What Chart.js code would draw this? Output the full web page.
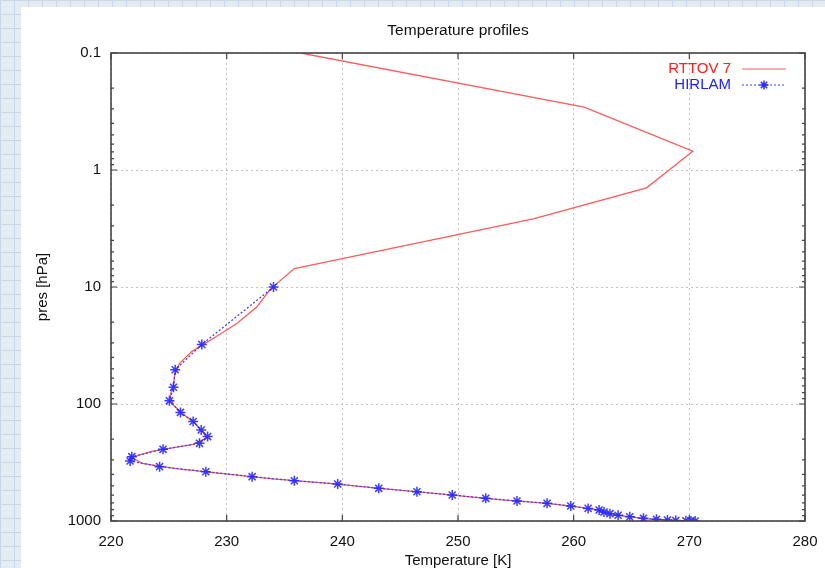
<!DOCTYPE html>
<html>
<head>
<meta charset="utf-8">
<script src="https://cdn.jsdelivr.net/npm/chart.js@4"></script>
<style>
    html, body { margin: 0; padding: 0; }
    body {
        width: 825px; height: 568px; overflow: hidden; position: relative;
        background-color: #e3ebf3;
        background-image:
            linear-gradient(#c9d7e4 1px, transparent 1px),
            linear-gradient(90deg, #c9d7e4 1px, transparent 1px);
        background-size: 14px 14px;
    }
    #panel { position: absolute; left: 21px; top: 7px; right: 0; bottom: 0; background: #fff; }
    #wrap { position: absolute; left: 0; top: 0; width: 825px; height: 568px; }
</style>
</head>
<body>
<div id="panel"></div>
<div id="wrap"><canvas id="chart" width="825" height="568"></canvas></div>
<script>
// RTTOV 7 profile (43 standard levels)
const rttovPres = [0.1, 0.29, 0.69, 1.42, 2.611, 4.407, 6.95, 10.37, 14.81, 20.4, 27.26, 35.51, 45.29,
    56.73, 69.97, 85.18, 102.05, 122.04, 143.84, 167.95, 194.36, 222.94, 253.71, 286.6, 321.5,
    358.28, 396.81, 436.95, 478.54, 521.46, 565.54, 610.6, 656.43, 702.73, 749.12, 795.09,
    839.95, 882.8, 922.46, 957.44, 985.88, 1005.43];
const rttovTemp = [236.4, 260.9, 270.3, 266.3, 256.5, 245.5, 235.85, 233.8, 232.6, 230.9, 228.9, 227.0, 225.9,
    225.5, 225.4, 225.1, 225.4, 226.2, 227.2, 227.8, 228.3, 227.0, 223.5, 221.8, 222.7,
    225.8, 230.1, 234.0, 239.1, 242.8, 246.8, 250.2, 253.6, 257.5, 260.0, 261.8,
    262.65, 263.6, 264.8, 266.4, 268.5, 270.6];

// HIRLAM profile
const hirlamPres = [10, 31, 51, 72, 94, 118, 141, 167, 190, 217, 244, 282, 307, 343, 379, 418, 453,
    483, 526, 562, 600, 640, 675, 706, 745, 780, 806, 839, 866, 893, 922, 948, 967, 981, 990, 995, 998, 1000];
const hirlamTemp = [234.05, 227.85, 225.55, 225.4, 225.05, 226.0, 227.1, 227.8, 228.35, 227.65, 224.5, 221.8,
    221.65, 224.2, 228.2, 232.2, 235.85, 239.6, 243.15, 246.45, 249.5, 252.4, 255.1, 257.7, 259.75,
    261.25, 262.2, 262.62, 263.14, 263.84, 264.85, 266.03, 267.16, 268.11, 268.83, 269.7, 270.13, 270.5];

const yTickValues = [0.1, 1, 10, 100, 1000];
const yTickLabels = ['0.1', '1', '10', '100', '1000'];
const xTickValues = [220, 230, 240, 250, 260, 270, 280];

const FONT = '"Liberation Sans", Arial, Helvetica, sans-serif';

const toPoints = (temps, pres) => temps.map((t, i) => ({ x: t, y: pres[i] }));

const framePlugin = {
    id: 'frame',
    afterDraw(chart) {
        const { ctx, chartArea: a, scales } = chart;
        ctx.save();
        ctx.strokeStyle = '#444';
        ctx.lineWidth = 1.6;
        ctx.strokeRect(a.left, a.top, a.right - a.left, a.bottom - a.top);

        // x major ticks (top and bottom, inward)
        ctx.beginPath();
        xTickValues.forEach((v) => {
            const px = scales.x.getPixelForValue(v);
            ctx.moveTo(px, a.bottom); ctx.lineTo(px, a.bottom - 6);
            ctx.moveTo(px, a.top); ctx.lineTo(px, a.top + 6);
        });
        // y ticks, major and minor on both sides
        yTickValues.forEach((dec) => {
            for (let m = 1; m <= 9; m++) {
                const v = dec * m;
                if (v > 1000) break;
                const py = scales.y.getPixelForValue(v);
                const len = m === 1 ? 6 : 3;
                ctx.moveTo(a.left, py); ctx.lineTo(a.left + len, py);
                ctx.moveTo(a.right, py); ctx.lineTo(a.right - len, py);
            }
        });
        ctx.lineWidth = 1.2;
        ctx.stroke();

        // title
        ctx.fillStyle = '#111';
        ctx.font = '15.5px ' + FONT;
        ctx.textAlign = 'center';
        ctx.textBaseline = 'middle';
        ctx.fillText('Temperature profiles', 458, 31);

        // legend
        ctx.font = '15px ' + FONT;
        ctx.textAlign = 'right';
        ctx.fillStyle = '#ff2020';
        ctx.fillText('RTTOV 7', 731, 69);
        ctx.fillStyle = '#2020ff';
        ctx.fillText('HIRLAM', 731, 85);

        ctx.strokeStyle = '#ff5a5a';
        ctx.lineWidth = 1;
        ctx.beginPath(); ctx.moveTo(742, 69); ctx.lineTo(786, 69); ctx.stroke();

        ctx.strokeStyle = '#3a3aff';
        ctx.setLineDash([2, 2]);
        ctx.beginPath(); ctx.moveTo(742, 85); ctx.lineTo(786, 85); ctx.stroke();
        ctx.setLineDash([]);
        ctx.lineWidth = 1.5;
        ctx.strokeStyle = '#2a2aff';
        const cx = 764, cy = 85, r = 4.5;
        ctx.beginPath();
        ctx.moveTo(cx - r, cy); ctx.lineTo(cx + r, cy);
        ctx.moveTo(cx, cy - r); ctx.lineTo(cx, cy + r);
        const d = r * 0.707;
        ctx.moveTo(cx - d, cy - d); ctx.lineTo(cx + d, cy + d);
        ctx.moveTo(cx - d, cy + d); ctx.lineTo(cx + d, cy - d);
        ctx.stroke();
        ctx.restore();
    }
};

new Chart(document.getElementById('chart').getContext('2d'), {
    type: 'scatter',
    data: {
        datasets: [
            {
                label: 'HIRLAM',
                data: toPoints(hirlamTemp, hirlamPres),
                showLine: true,
                borderColor: '#3a3aff',
                borderWidth: 1.2,
                borderDash: [2, 2],
                pointStyle: 'star',
                pointRadius: 5,
                pointBorderWidth: 1.5,
                pointBorderColor: 'rgba(40, 40, 255, 0.9)',
                pointBackgroundColor: 'rgba(40, 40, 255, 0.9)',
                order: 0
            },
            {
                label: 'RTTOV 7',
                data: toPoints(rttovTemp, rttovPres),
                showLine: true,
                borderColor: '#ff5a5a',
                borderWidth: 1.3,
                pointRadius: 0,
                order: 1
            }
        ]
    },
    options: {
        responsive: false,
        animation: false,
        events: [],
        layout: { padding: { left: 20, right: 20, top: 53, bottom: 0 } },
        plugins: {
            legend: { display: false },
            tooltip: { enabled: false },
            title: { display: false }
        },
        scales: {
            x: {
                type: 'linear',
                min: 220,
                max: 280,
                afterBuildTicks: (s) => { s.ticks = xTickValues.map((v) => ({ value: v })); },
                afterFit: (s) => { s.height = 47; s.paddingLeft = 0; s.paddingRight = 0; },
                grid: { color: '#c4c4c4', drawTicks: false, lineWidth: 1 },
                border: { display: false, dash: [2, 3] },
                ticks: { color: '#111', padding: 12, font: { family: FONT, size: 15 } },
                title: {
                    display: true, text: 'Temperature [K]', color: '#111',
                    font: { family: FONT, size: 15, lineHeight: 1 }, padding: 0
                }
            },
            y: {
                type: 'logarithmic',
                reverse: true,
                min: 0.1,
                max: 1000,
                afterBuildTicks: (s) => { s.ticks = yTickValues.map((v) => ({ value: v })); },
                afterFit: (s) => { s.width = 91; s.paddingTop = 0; s.paddingBottom = 0; },
                grid: { color: '#c4c4c4', drawTicks: false, lineWidth: 1 },
                border: { display: false, dash: [2, 3] },
                ticks: {
                    color: '#111', padding: 10, font: { family: FONT, size: 15 },
                    callback: (v) => yTickLabels[yTickValues.indexOf(v)] ?? ''
                },
                title: {
                    display: true, text: 'pres [hPa]', color: '#111',
                    font: { family: FONT, size: 15, lineHeight: 1 }, padding: { top: 15, bottom: 0 }
                }
            }
        }
    },
    plugins: [framePlugin]
});
</script>
</body>
</html>
